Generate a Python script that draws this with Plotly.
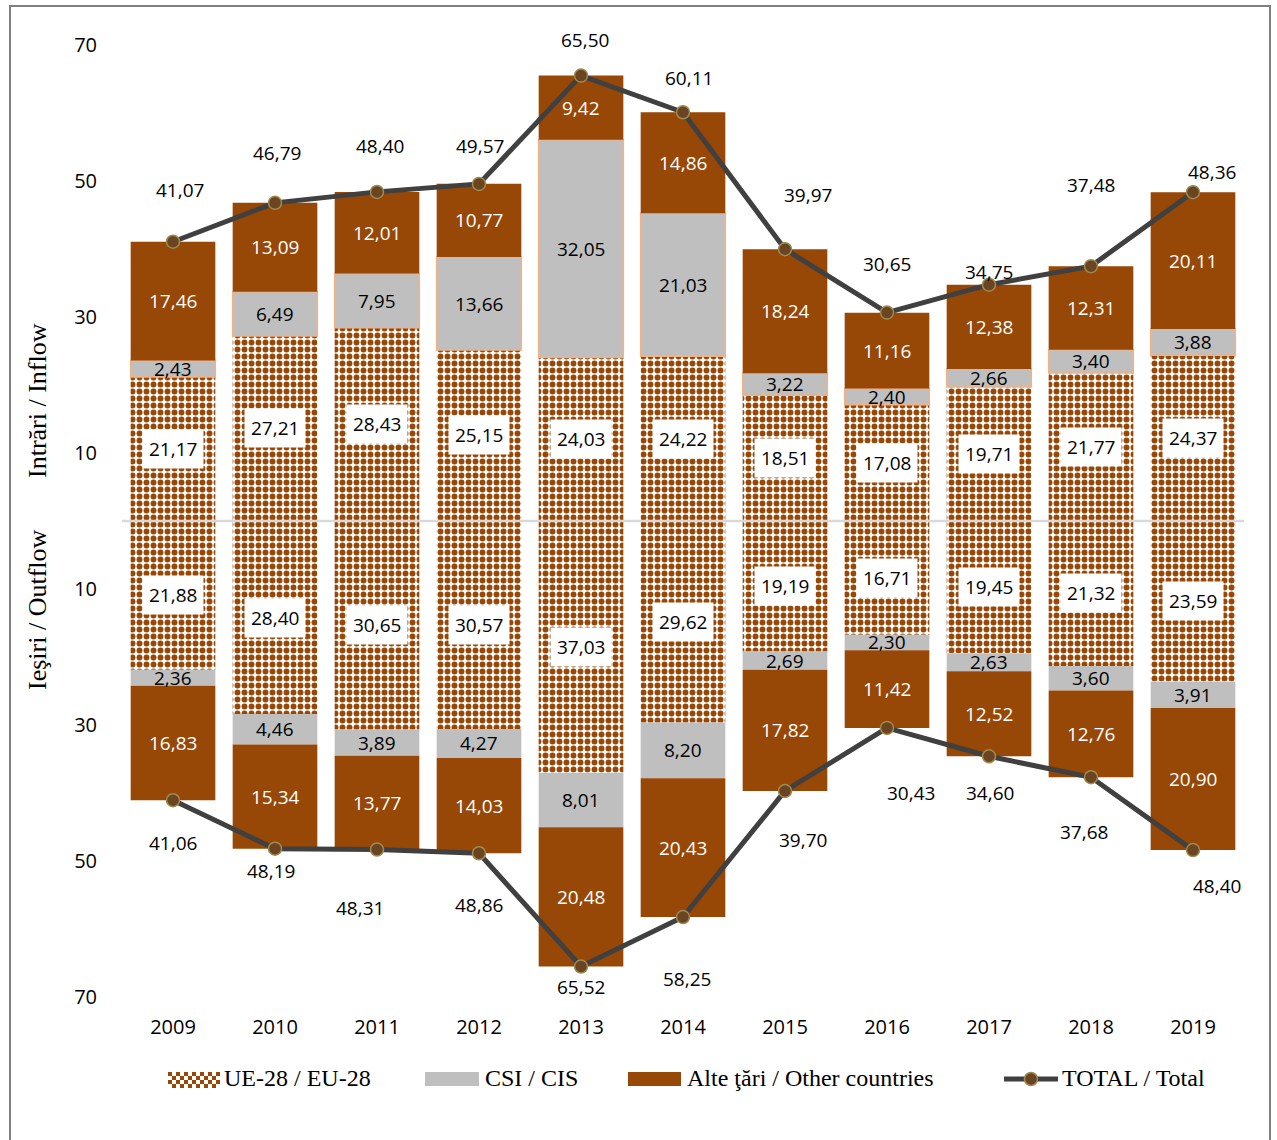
import plotly.graph_objects as go

years = ["2009", "2010", "2011", "2012", "2013", "2014", "2015", "2016", "2017", "2018", "2019"]

# Inflow (Intrări)
in_eu = [21.17, 27.21, 28.43, 25.15, 24.03, 24.22, 18.51, 17.08, 19.71, 21.77, 24.37]
in_cis = [2.43, 6.49, 7.95, 13.66, 32.05, 21.03, 3.22, 2.40, 2.66, 3.40, 3.88]
in_other = [17.46, 13.09, 12.01, 10.77, 9.42, 14.86, 18.24, 11.16, 12.38, 12.31, 20.11]
in_total = [41.07, 46.79, 48.40, 49.57, 65.50, 60.11, 39.97, 30.65, 34.75, 37.48, 48.36]

# Outflow (Ieşiri)
out_eu = [21.88, 28.40, 30.65, 30.57, 37.03, 29.62, 19.19, 16.71, 19.45, 21.32, 23.59]
out_cis = [2.36, 4.46, 3.89, 4.27, 8.01, 8.20, 2.69, 2.30, 2.63, 3.60, 3.91]
out_other = [16.83, 15.34, 13.77, 14.03, 20.48, 20.43, 17.82, 11.42, 12.52, 12.76, 20.90]
out_total = [41.06, 48.19, 48.31, 48.86, 65.52, 58.25, 39.70, 30.43, 34.60, 37.68, 48.40]

ytick_vals = [-70, -50, -30, -10, 10, 30, 50, 70]
ytick_text = ["70", "50", "30", "10", "10", "30", "50", "70"]

# label offsets (pixels) for the total labels
in_lab_dx = [7, 2, 3, 1, 4, 6, 23, 0, 0, 0, 19]
in_lab_dy = [52, 50, 46, 38, 36, 34, 54, 49, 13, 81, 20]
out_lab_dx = [0, -4, -17, 0, 0, 4, 18, 24, 1, -7, 24]
out_lab_dy = [43, 22, 58, 52, 20, 62, 49, 65, 37, 55, 36]

BROWN = "#974706"
GRAY = "#BFBFBF"
LINE = "#404040"
MARK = "#6B4422"
MARK_EDGE = "#9C8C52"
NUMFONT = "Open Sans"
SERIF = "Liberation Serif"
NUMSIZE = 19
TICKSIZE = 20

def fmt(v):
    return f"{v:.2f}".replace(".", ",")

neg = lambda arr: [-v for v in arr]
xi = list(range(len(years)))

fig = go.Figure()
pat = dict(shape=".", fgcolor=BROWN, bgcolor="white", size=7, solidity=0.55, fillmode="replace")

fig.add_trace(go.Bar(x=xi, y=in_eu, marker=dict(color="white", pattern=pat, line=dict(width=0)),
                     name="UE-28 / EU-28"))
fig.add_trace(go.Bar(x=xi, y=neg(out_eu), marker=dict(color="white", pattern=pat, line=dict(width=0))))
fig.add_trace(go.Bar(x=xi, y=in_cis, marker=dict(color=GRAY, line=dict(color="#F4B183", width=1.5)),
                     name="CSI / CIS"))
fig.add_trace(go.Bar(x=xi, y=neg(out_cis), marker=dict(color=GRAY, line=dict(width=0))))
fig.add_trace(go.Bar(x=xi, y=in_other, marker=dict(color=BROWN, line=dict(width=0)),
                     name="Alte ţări / Other countries"))
fig.add_trace(go.Bar(x=xi, y=neg(out_other), marker=dict(color=BROWN, line=dict(width=0))))

line_style = dict(color=LINE, width=5)
marker_style = dict(size=13, color=MARK, line=dict(color=MARK_EDGE, width=1.5))
fig.add_trace(go.Scatter(x=xi, y=in_total, mode="lines+markers", line=line_style,
                         marker=marker_style, name="TOTAL / Total"))
fig.add_trace(go.Scatter(x=xi, y=neg(out_total), mode="lines+markers", line=line_style,
                         marker=marker_style))

annotations = []
def num_ann(x, y, text, color="black", box=False, dx=0, dy=0):
    a = dict(x=x, y=y, xref="x", yref="y", text=text, showarrow=False, xshift=dx, yshift=dy,
             font=dict(family=NUMFONT, size=NUMSIZE, color=color))
    if box:
        a["bgcolor"] = "white"
        a["borderpad"] = 6
    return a

for i in xi:
    annotations.append(num_ann(i, in_eu[i] / 2, fmt(in_eu[i]), box=True))
    annotations.append(num_ann(i, in_eu[i] + in_cis[i] / 2, fmt(in_cis[i])))
    annotations.append(num_ann(i, in_eu[i] + in_cis[i] + in_other[i] / 2, fmt(in_other[i]), color="white"))
    annotations.append(num_ann(i, -out_eu[i] / 2, fmt(out_eu[i]), box=True))
    annotations.append(num_ann(i, -(out_eu[i] + out_cis[i] / 2), fmt(out_cis[i])))
    annotations.append(num_ann(i, -(out_eu[i] + out_cis[i] + out_other[i] / 2), fmt(out_other[i]), color="white"))
    annotations.append(num_ann(i, in_total[i], fmt(in_total[i]), dx=in_lab_dx[i], dy=in_lab_dy[i]))
    annotations.append(num_ann(i, -out_total[i], fmt(out_total[i]), dx=out_lab_dx[i], dy=-out_lab_dy[i]))

# plot-area geometry in page pixels
W, H = 1277, 1140
L, R, T, B = 122, 1244, 31, 1011
def px2x(px):
    return (px - L) / (R - L)
def py2y(py):
    return (B - py) / (B - T)

# axis titles
annotations.append(dict(xref="paper", yref="paper", x=px2x(37), y=py2y(401), text="Intrări / Inflow",
                        xanchor="center", yanchor="middle",
                        textangle=-90, showarrow=False, font=dict(family=SERIF, size=26, color="black")))
annotations.append(dict(xref="paper", yref="paper", x=px2x(37), y=py2y(610), text="Ieşiri / Outflow",
                        xanchor="center", yanchor="middle",
                        textangle=-90, showarrow=False, font=dict(family=SERIF, size=26, color="black")))

# legend (manual)
legend_items = [
    (222, "UE-28 / EU-28"),
    (483, "CSI / CIS"),
    (685, "Alte ţări / Other countries"),
    (1060, "TOTAL / Total"),
]
for lx, txt in legend_items:
    annotations.append(dict(xref="paper", yref="paper", x=px2x(lx), y=py2y(1078), text=txt,
                            xanchor="left", yanchor="middle", showarrow=False,
                            font=dict(family=SERIF, size=24, color="black")))

shapes = []
shapes.append(dict(type="line", xref="paper", yref="y", x0=0, x1=1, y0=0, y1=0,
                   line=dict(color="#D9D9D9", width=2.5), layer="above"))
shapes.append(dict(type="path", xref="paper", yref="paper",
                   path=f"M{px2x(10)},{py2y(1160)} L{px2x(10)},{py2y(6)} L{px2x(1270)},{py2y(6)} L{px2x(1270)},{py2y(1160)}",
                   line=dict(color="#7F7F7F", width=2)))
cell = 4
segs = []
for r in range(4):
    for c in range(13):
        if (r + c) % 2 == 0:
            x0, y0 = c * cell, -r * cell
            segs.append(f"M{x0},{y0} L{x0 + cell},{y0} L{x0 + cell},{y0 - cell} L{x0},{y0 - cell} Z")
shapes.append(dict(type="path", xref="paper", yref="paper", xsizemode="pixel", ysizemode="pixel",
                   xanchor=px2x(168), yanchor=py2y(1072), path=" ".join(segs),
                   fillcolor=BROWN, line=dict(width=0)))
shapes.append(dict(type="rect", xref="paper", yref="paper", x0=px2x(425), x1=px2x(479),
                   y0=py2y(1086), y1=py2y(1072), fillcolor=GRAY, line=dict(width=0)))
shapes.append(dict(type="rect", xref="paper", yref="paper", x0=px2x(628), x1=px2x(681),
                   y0=py2y(1086), y1=py2y(1072), fillcolor=BROWN, line=dict(width=0)))
shapes.append(dict(type="line", xref="paper", yref="paper", x0=px2x(1004), x1=px2x(1058),
                   y0=py2y(1079), y1=py2y(1079), line=dict(color=LINE, width=5)))
shapes.append(dict(type="circle", xref="paper", yref="paper", x0=px2x(1024.5), x1=px2x(1037.5),
                   y0=py2y(1085.5), y1=py2y(1072.5), fillcolor=MARK, line=dict(color=MARK_EDGE, width=1.5)))

half = (B - T) / 2 / 6.8
fig.update_layout(
    width=W, height=H,
    margin=dict(l=L, r=W - R, t=T, b=H - B),
    barmode="relative", bargap=0.17,
    plot_bgcolor="white", paper_bgcolor="white",
    showlegend=False,
    annotations=annotations, shapes=shapes,
    xaxis=dict(range=[-0.5, 10.5], tickvals=xi, ticktext=years, showgrid=False, zeroline=False,
               showline=False, ticks="", ticklabelstandoff=2,
               tickfont=dict(family=NUMFONT, size=TICKSIZE, color="black")),
    yaxis=dict(range=[-half, half], showgrid=False, zeroline=False, showline=False,
               tickvals=ytick_vals, ticktext=ytick_text, ticks="", ticklabelstandoff=24,
               tickfont=dict(family=NUMFONT, size=TICKSIZE, color="black")),
)

fig.write_html("out.html", config={"displayModeBar": False},
               post_script="document.body.style.margin='0';document.body.style.overflow='hidden';")
